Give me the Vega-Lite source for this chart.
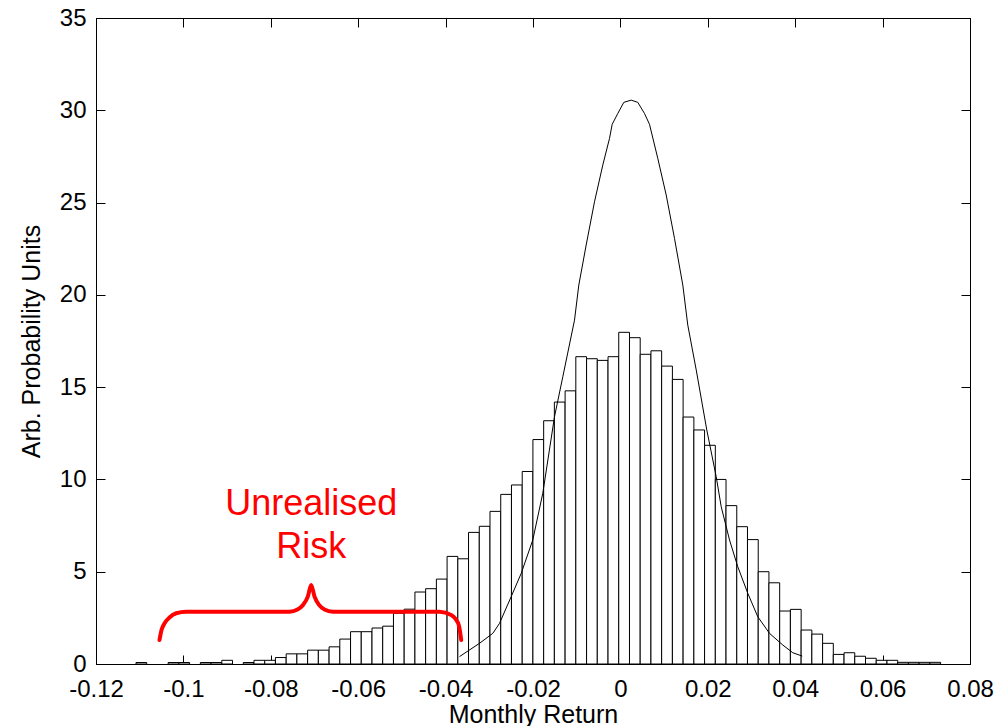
{
  "$schema": "https://vega.github.io/schema/vega-lite/v6.json",
  "width": 874,
  "height": 646,
  "autosize": "none",
  "padding": {"left": 96, "top": 18, "right": 31, "bottom": 62},
  "background": "white",
  "config": {
    "font": "Liberation Sans",
    "view": {"stroke": "black", "strokeWidth": 1},
    "axis": {
      "grid": false,
      "domainColor": "black",
      "tickColor": "black",
      "labelColor": "black",
      "titleColor": "black",
      "labelFontSize": 24,
      "titleFontSize": 25,
      "titleFontWeight": "normal",
      "tickSize": -9,
      "labelFlush": false
    }
  },
  "datasets": {
    "bars": [
      {"lo": -0.11085, "hi": -0.10840, "v": 0.08},
      {"lo": -0.10349, "hi": -0.10103, "v": 0.08},
      {"lo": -0.10103, "hi": -0.09858, "v": 0.08},
      {"lo": -0.09612, "hi": -0.09367, "v": 0.08},
      {"lo": -0.09367, "hi": -0.09121, "v": 0.08},
      {"lo": -0.09121, "hi": -0.08876, "v": 0.2},
      {"lo": -0.08630, "hi": -0.08385, "v": 0.08},
      {"lo": -0.08385, "hi": -0.08139, "v": 0.2},
      {"lo": -0.08139, "hi": -0.07894, "v": 0.2},
      {"lo": -0.07894, "hi": -0.07648, "v": 0.35},
      {"lo": -0.07648, "hi": -0.07403, "v": 0.55},
      {"lo": -0.07403, "hi": -0.07157, "v": 0.55},
      {"lo": -0.07157, "hi": -0.06912, "v": 0.75},
      {"lo": -0.06912, "hi": -0.06666, "v": 0.75},
      {"lo": -0.06666, "hi": -0.06421, "v": 0.93},
      {"lo": -0.06421, "hi": -0.06175, "v": 1.35},
      {"lo": -0.06175, "hi": -0.05930, "v": 1.75},
      {"lo": -0.05930, "hi": -0.05684, "v": 1.75},
      {"lo": -0.05684, "hi": -0.05439, "v": 1.95},
      {"lo": -0.05439, "hi": -0.05193, "v": 2.05},
      {"lo": -0.05193, "hi": -0.04948, "v": 2.75},
      {"lo": -0.04948, "hi": -0.04702, "v": 2.97},
      {"lo": -0.04702, "hi": -0.04457, "v": 3.9},
      {"lo": -0.04457, "hi": -0.04211, "v": 4.08},
      {"lo": -0.04211, "hi": -0.03966, "v": 4.6},
      {"lo": -0.03966, "hi": -0.03720, "v": 5.83},
      {"lo": -0.03720, "hi": -0.03475, "v": 5.7},
      {"lo": -0.03475, "hi": -0.03229, "v": 7.13},
      {"lo": -0.03229, "hi": -0.02984, "v": 7.46},
      {"lo": -0.02984, "hi": -0.02738, "v": 8.27},
      {"lo": -0.02738, "hi": -0.02493, "v": 9.19},
      {"lo": -0.02493, "hi": -0.02247, "v": 9.7},
      {"lo": -0.02247, "hi": -0.02002, "v": 10.43},
      {"lo": -0.02002, "hi": -0.01756, "v": 12.16},
      {"lo": -0.01756, "hi": -0.01511, "v": 13.18},
      {"lo": -0.01511, "hi": -0.01265, "v": 14.19},
      {"lo": -0.01265, "hi": -0.01020, "v": 14.8},
      {"lo": -0.01020, "hi": -0.00774, "v": 16.65},
      {"lo": -0.00774, "hi": -0.00529, "v": 16.54},
      {"lo": -0.00529, "hi": -0.00283, "v": 16.45},
      {"lo": -0.00283, "hi": -0.00038, "v": 16.65},
      {"lo": -0.00038, "hi": 0.00208, "v": 17.97},
      {"lo": 0.00208, "hi": 0.00453, "v": 17.68},
      {"lo": 0.00453, "hi": 0.00699, "v": 16.78},
      {"lo": 0.00699, "hi": 0.00944, "v": 16.97},
      {"lo": 0.00944, "hi": 0.01190, "v": 16.14},
      {"lo": 0.01190, "hi": 0.01435, "v": 15.42},
      {"lo": 0.01435, "hi": 0.01681, "v": 13.38},
      {"lo": 0.01681, "hi": 0.01926, "v": 12.68},
      {"lo": 0.01926, "hi": 0.02172, "v": 11.85},
      {"lo": 0.02172, "hi": 0.02417, "v": 10.0},
      {"lo": 0.02417, "hi": 0.02663, "v": 8.58},
      {"lo": 0.02663, "hi": 0.02908, "v": 7.44},
      {"lo": 0.02908, "hi": 0.03154, "v": 6.74},
      {"lo": 0.03154, "hi": 0.03399, "v": 5.0},
      {"lo": 0.03399, "hi": 0.03645, "v": 4.4},
      {"lo": 0.03645, "hi": 0.03890, "v": 2.87},
      {"lo": 0.03890, "hi": 0.04136, "v": 2.96},
      {"lo": 0.04136, "hi": 0.04381, "v": 1.84},
      {"lo": 0.04381, "hi": 0.04627, "v": 1.62},
      {"lo": 0.04627, "hi": 0.04872, "v": 1.12},
      {"lo": 0.04872, "hi": 0.05118, "v": 0.52},
      {"lo": 0.05118, "hi": 0.05363, "v": 0.61},
      {"lo": 0.05363, "hi": 0.05609, "v": 0.42},
      {"lo": 0.05609, "hi": 0.05854, "v": 0.31},
      {"lo": 0.05854, "hi": 0.06100, "v": 0.2},
      {"lo": 0.06100, "hi": 0.06345, "v": 0.2},
      {"lo": 0.06345, "hi": 0.06591, "v": 0.09},
      {"lo": 0.06591, "hi": 0.06836, "v": 0.09},
      {"lo": 0.06836, "hi": 0.07082, "v": 0.09},
      {"lo": 0.07082, "hi": 0.07327, "v": 0.09}
    ],
    "curve": [
      {"x": -0.03682, "y": 0.40},
      {"x": -0.03224, "y": 1.12},
      {"x": -0.02920, "y": 1.66},
      {"x": -0.02767, "y": 2.20},
      {"x": -0.02499, "y": 3.65},
      {"x": -0.02270, "y": 4.91},
      {"x": -0.02005, "y": 6.72},
      {"x": -0.01776, "y": 9.25},
      {"x": -0.01508, "y": 13.40},
      {"x": -0.01318, "y": 15.56},
      {"x": -0.01050, "y": 18.63},
      {"x": -0.00952, "y": 20.53},
      {"x": -0.00783, "y": 22.70},
      {"x": -0.00593, "y": 25.04},
      {"x": -0.00403, "y": 27.03},
      {"x": -0.00249, "y": 28.48},
      {"x": -0.00188, "y": 29.24},
      {"x": -0.00059, "y": 29.83},
      {"x": 0.00078, "y": 30.43},
      {"x": 0.00247, "y": 30.55},
      {"x": 0.00398, "y": 30.43},
      {"x": 0.00551, "y": 29.83},
      {"x": 0.00666, "y": 29.24},
      {"x": 0.00856, "y": 27.39},
      {"x": 0.01048, "y": 25.41},
      {"x": 0.01238, "y": 23.06},
      {"x": 0.01428, "y": 20.53},
      {"x": 0.01542, "y": 18.36},
      {"x": 0.01735, "y": 15.93},
      {"x": 0.01977, "y": 12.68},
      {"x": 0.02192, "y": 10.15},
      {"x": 0.02307, "y": 8.52},
      {"x": 0.02497, "y": 6.72},
      {"x": 0.02686, "y": 5.27},
      {"x": 0.02915, "y": 3.83},
      {"x": 0.03144, "y": 2.56},
      {"x": 0.03412, "y": 1.66},
      {"x": 0.03716, "y": 1.03},
      {"x": 0.03945, "y": 0.61},
      {"x": 0.04160, "y": 0.43}
    ],
    "brace": [
      {"i": 0, "x": -0.10547, "y": 1.30},
      {"i": 1, "x": -0.10501, "y": 1.84},
      {"i": 2, "x": -0.10432, "y": 2.20},
      {"i": 3, "x": -0.10318, "y": 2.52},
      {"i": 4, "x": -0.10165, "y": 2.75},
      {"i": 5, "x": -0.09936, "y": 2.83},
      {"i": 6, "x": -0.07572, "y": 2.83},
      {"i": 7, "x": -0.07389, "y": 2.95},
      {"i": 8, "x": -0.07263, "y": 3.20},
      {"i": 9, "x": -0.07153, "y": 3.65},
      {"i": 10, "x": -0.07076, "y": 4.28},
      {"i": 11, "x": -0.06999, "y": 3.65},
      {"i": 12, "x": -0.06896, "y": 3.20},
      {"i": 13, "x": -0.06771, "y": 2.95},
      {"i": 14, "x": -0.06581, "y": 2.83},
      {"i": 15, "x": -0.04140, "y": 2.83},
      {"i": 16, "x": -0.03872, "y": 2.65},
      {"i": 17, "x": -0.03773, "y": 2.44},
      {"i": 18, "x": -0.03693, "y": 2.06},
      {"i": 19, "x": -0.03643, "y": 1.30}
    ],
    "notes": [
      {"x": -0.07076, "y": 8.07, "t": "Unrealised"},
      {"x": -0.07076, "y": 5.74, "t": "Risk"}
    ]
  },
  "resolve": {"axis": {"x": "independent", "y": "independent"}},
  "layer": [
    {
      "data": {"name": "bars"},
      "mark": {"type": "rect", "fill": "white", "stroke": "black", "strokeWidth": 1},
      "encoding": {
        "x": {
          "field": "lo", "type": "quantitative",
          "scale": {"domain": [-0.12, 0.08], "nice": false, "zero": false},
          "axis": {
            "orient": "bottom",
            "title": "Monthly Return",
            "values": [-0.12, -0.1, -0.08, -0.06, -0.04, -0.02, 0, 0.02, 0.04, 0.06, 0.08],
            "labelExpr": "(datum.value < 0 ? '-' : '') + format(abs(datum.value), '.2~f')",
            "labelPadding": 22,
            "titlePadding": 1
          }
        },
        "x2": {"field": "hi"},
        "y": {
          "field": "v", "type": "quantitative",
          "scale": {"domain": [0, 35], "nice": false},
          "axis": {
            "orient": "left",
            "title": "Arb. Probability Units",
            "values": [0, 5, 10, 15, 20, 25, 30, 35],
            "labelPadding": 19,
            "titlePadding": 15
          }
        },
        "y2": {"datum": 0}
      }
    },
    {
      "data": {"name": "curve"},
      "mark": {"type": "line", "color": "black", "strokeWidth": 1},
      "encoding": {
        "x": {
          "field": "x", "type": "quantitative",
          "axis": {
            "orient": "top", "title": null, "labels": false,
            "values": [-0.12, -0.1, -0.08, -0.06, -0.04, -0.02, 0, 0.02, 0.04, 0.06, 0.08]
          }
        },
        "y": {
          "field": "y", "type": "quantitative",
          "axis": {
            "orient": "right", "title": null, "labels": false,
            "values": [0, 5, 10, 15, 20, 25, 30, 35]
          }
        }
      }
    },
    {
      "data": {"name": "brace"},
      "mark": {"type": "line", "color": "#ff0000", "strokeWidth": 4, "interpolate": "monotone", "strokeCap": "round"},
      "encoding": {
        "x": {"field": "x", "type": "quantitative", "axis": null},
        "y": {"field": "y", "type": "quantitative", "axis": null},
        "order": {"field": "i"}
      }
    },
    {
      "data": {"name": "notes"},
      "mark": {"type": "text", "color": "#ff0000", "fontSize": 36, "align": "center", "baseline": "alphabetic", "font": "Liberation Sans"},
      "encoding": {
        "x": {"field": "x", "type": "quantitative", "axis": null},
        "y": {"field": "y", "type": "quantitative", "axis": null},
        "text": {"field": "t"}
      }
    }
  ]
}
